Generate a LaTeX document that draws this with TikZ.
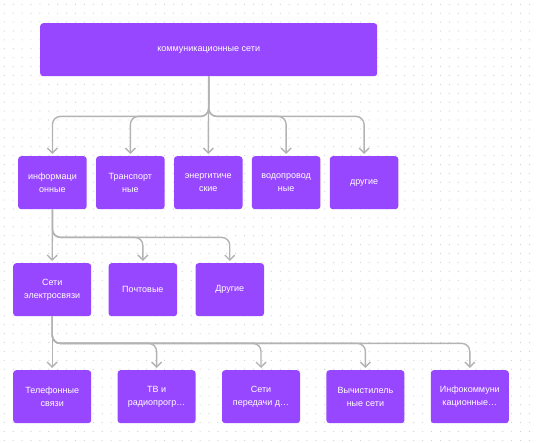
\documentclass[tikz,border=0pt]{standalone}
\usepackage{fontspec}
\setmainfont{Liberation Sans}
\usetikzlibrary{
  arrows.meta,
  positioning
}
\definecolor{netPurple}{HTML}{9747FF}
\definecolor{netLink}{HTML}{B3B3B3}
\definecolor{netDot}{HTML}{CFCFCF}
\tikzset{
  netnode/.style={
    rounded corners=3pt, minimum height=53pt, minimum width=68.5pt,
    font=\fontsize{9}{13.3}\selectfont, align=center, inner sep=2pt,
    fill=netPurple, text=white
  },
  netbox/.style={netnode},
  widebox/.style={netnode, minimum width=78pt},
  netlink/.style={-{Straight Barb[length=5pt, width=10pt]}, line width=1.4pt,
    netLink, rounded corners=8pt, shorten >=2pt}
}

\begin{document}
\begin{tikzpicture}[x=1pt, y=-1pt, node distance=9pt]
  \useasboundingbox[fill=white] (0,0) rectangle (537,443);
  % dot grid
  \foreach \i in {0,...,60} {
    \foreach \j in {0,...,49} {
      \fill[netDot] ({4.3+8.9*\i},{4.3+8.9*\j}) circle (0.6pt);
    }
  }

  \node[netnode, minimum width=337pt, anchor=north west] (top) at (40,23)
    {коммуникационные сети};

  % first level
  \node[netbox, anchor=north west] (info) at (18,156) {информаци\\онные};
  \node[netbox, right=of info] (transp) {Транспорт\\ные};
  \node[netbox, right=of transp] (energ) {энергитиче\\ские};
  \node[netbox, right=of energ] (water) {водопровод\\ные};
  \node[netbox, right=of water] (other) {другие};

  % second level
  \node[widebox, anchor=north west] (tele) at (13,263) {Сети\\электросвязи};
  \node[netbox, right=17pt of tele] (post) {Почтовые};
  \node[netbox, right=18pt of post] (othertwo) {Другие};

  % third level
  \node[widebox, anchor=north west] (phone) at (13,370) {Телефонные\\связи};
  \node[widebox, right=26pt of phone] (tv) {ТВ и\\радиопрогр…};
  \node[widebox, right=26pt of tv] (data) {Сети\\передачи д…};
  \node[widebox, right=26pt of data] (comp) {Вычистилель\\ные сети};
  \node[widebox, right=26pt of comp] (infocom) {Инфокоммуни\\кационные…};

  \draw[netlink] (top.south) -- (energ.north);
  \foreach \n in {info, transp, water, other}
    \draw[netlink] (top.south) -- ++(0,40) -| (\n.north);

  \draw[netlink] (info.south) -- (tele.north);
  \foreach \n in {post, othertwo}
    \draw[netlink] (info.south) -- ++(0,28) -| (\n.north);

  \draw[netlink] (tele.south) -- (phone.north);
  \foreach \n in {tv, data, comp, infocom}
    \draw[netlink] (tele.south) -- ++(0,27) -| (\n.north);
\end{tikzpicture}
\end{document}
